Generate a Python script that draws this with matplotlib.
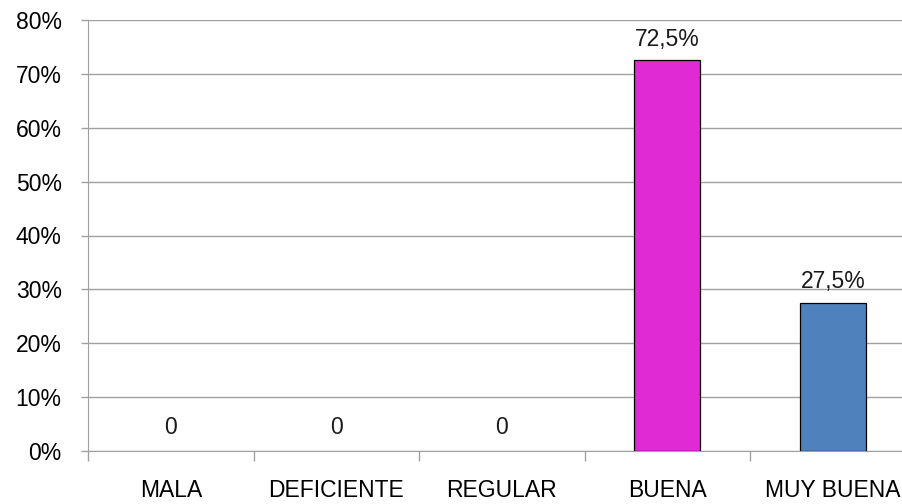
import matplotlib.pyplot as plt
from matplotlib.ticker import FuncFormatter

# data
categories = ['MALA', 'DEFICIENTE', 'REGULAR', 'BUENA', 'MUY BUENA']
values = [0, 0, 0, 72.5, 27.5]
value_labels = ['0', '0', '0', '72,5%', '27,5%']
bar_colors = ['#E02BD4', '#E02BD4', '#E02BD4', '#E02BD4', '#4F81BD']
y_ticks = [0, 10, 20, 30, 40, 50, 60, 70, 80]

plt.rcParams['font.family'] = ['Liberation Sans', 'DejaVu Sans']
FS = 16.5

fig = plt.figure(figsize=(9.03, 5.04), dpi=100)
# axes runs a little past the right edge, as in the original
ax = fig.add_axes([88 / 903, 53 / 504, 827.5 / 903, 431 / 504])

x = list(range(len(categories)))
edges = ['black' if v else 'none' for v in values]
ax.bar(x, values, width=0.4, color=bar_colors, edgecolor=edges, linewidth=0.9, zorder=3)

for xi, v, lab in zip(x, values, value_labels):
    ax.annotate(lab, (xi, v), xytext=(0, 7 if v else 9), textcoords='offset points',
                ha='center', va='bottom', fontsize=FS, color='#1a1a1a')

ax.set_xlim(-0.5, len(categories) - 0.5)
ax.set_ylim(0, 80)
ax.set_yticks(y_ticks)
ax.yaxis.set_major_formatter(FuncFormatter(lambda v, p: f'{v:.0f}%'))
ax.yaxis.grid(True, color='#a0a0a0', linewidth=1.0, zorder=0)

# category ticks sit between the slots
ax.set_xticks([i - 0.5 for i in x] + [len(categories) - 0.5])
ax.set_xticklabels([])
ax.set_xticks(x, minor=True)
ax.set_xticklabels(categories, minor=True)
ax.tick_params(axis='x', which='major', length=7, color='#a0a0a0', width=1.0)
ax.tick_params(axis='x', which='minor', length=0, pad=20.5, labelsize=FS)
ax.tick_params(axis='y', length=5, color='#a0a0a0', width=1.0, labelsize=FS, pad=14)

for side in ['top', 'right']:
    ax.spines[side].set_visible(False)
ax.spines['left'].set_color('#a0a0a0')
ax.spines['bottom'].set_color('#a0a0a0')

fig.savefig('out.png', dpi=100)
